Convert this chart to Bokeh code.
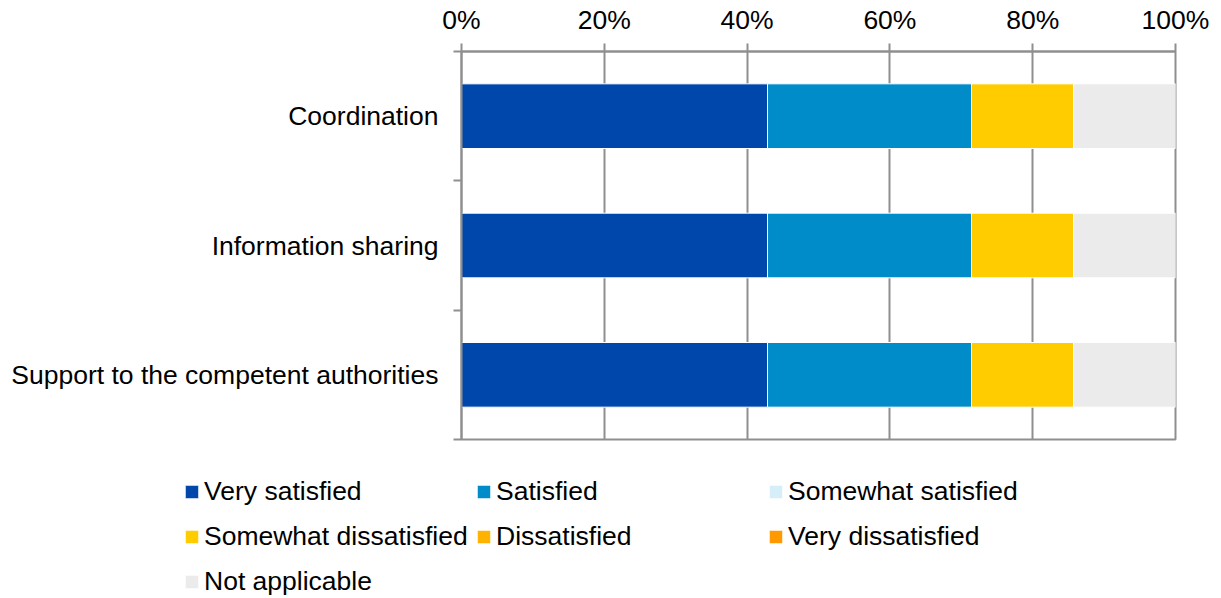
from bokeh.plotting import figure
from bokeh.layouts import column, row
from bokeh.models import (Range1d, FixedTicker, PrintfTickFormatter, Legend, LegendItem)
from bokeh.embed import file_html
from bokeh.resources import INLINE

categories = ["Coordination", "Information sharing", "Support to the competent authorities"]
series = ["Very satisfied", "Satisfied", "Somewhat satisfied",
          "Somewhat dissatisfied", "Dissatisfied", "Very dissatisfied", "Not applicable"]
very_satisfied = [42.86, 42.86, 42.86]
satisfied = [28.57, 28.57, 28.57]
somewhat_satisfied = [0.0, 0.0, 0.0]
somewhat_dissatisfied = [14.29, 14.29, 14.29]
dissatisfied = [0.0, 0.0, 0.0]
very_dissatisfied = [0.0, 0.0, 0.0]
not_applicable = [14.29, 14.29, 14.29]
colors = ["#0047AB", "#008BC9", "#D6EEF8", "#FFCC00", "#FFB300", "#FF9900", "#EBEBEB"]
x_ticks = [0, 20, 40, 60, 80, 100]

values = [very_satisfied, satisfied, somewhat_satisfied, somewhat_dissatisfied,
          dissatisfied, very_dissatisfied, not_applicable]

n = len(categories)
ypos = [n - i - 0.5 for i in range(n)]

FONT = "Liberation Sans"
FS = "26.5px"
GRID = "#8f8f8f"

data = {"y": ypos}
for s, v in zip(series, values):
    data[s] = v

p = figure(width=1221, height=460, x_range=Range1d(0, 100), y_range=Range1d(0, n),
           x_axis_location="above", output_backend="svg", toolbar_location=None,
           min_border_left=461, min_border_right=46, min_border_top=51, min_border_bottom=21)

p.hbar_stack(series, y="y", height=0.5, color=colors, line_color="white",
             line_width=1, source=data)

# x axis (top)
xa = p.xaxis[0]
xa.ticker = FixedTicker(ticks=x_ticks, minor_ticks=[])
xa.formatter = PrintfTickFormatter(format="%d%%")
xa.axis_line_color = GRID
xa.axis_line_width = 2
xa.major_tick_line_color = GRID
xa.major_tick_line_width = 2
xa.major_tick_out = 8
xa.major_tick_in = 0
xa.minor_tick_line_color = None
xa.major_label_text_font = FONT
xa.major_label_text_font_size = FS
xa.major_label_text_color = "black"
xa.major_label_standoff = 9

# y axis (left)
ya = p.yaxis[0]
ya.ticker = FixedTicker(ticks=ypos, minor_ticks=list(range(n + 1)))
ya.major_label_overrides = {y: c for y, c in zip(ypos, categories)}
ya.axis_line_color = GRID
ya.axis_line_width = 2
ya.major_tick_line_color = None
ya.major_tick_out = 0
ya.major_tick_in = 0
ya.minor_tick_line_color = GRID
ya.minor_tick_line_width = 2
ya.minor_tick_out = 8
ya.minor_tick_in = 0
ya.major_label_text_font = FONT
ya.major_label_text_font_size = FS
ya.major_label_text_color = "black"
ya.major_label_standoff = 15

p.xgrid.ticker = FixedTicker(ticks=x_ticks, minor_ticks=[])
p.xgrid.grid_line_color = GRID
p.xgrid.grid_line_width = 2
p.ygrid.grid_line_color = None
p.outline_line_color = GRID
p.outline_line_width = 2

# legend panel
lg = figure(width=1221, height=138, x_range=Range1d(0, 100), y_range=Range1d(10, 11),
            x_axis_location=None, y_axis_location=None, output_backend="svg",
            toolbar_location=None, min_border=0, outline_line_color=None)
lg.grid.grid_line_color = None
renderers = lg.hbar_stack(series, y="y", height=0.5, color=colors, line_color="white",
                          line_width=1, source=data)
items = [LegendItem(label=s, renderers=[r]) for s, r in zip(series, renderers)]
legend = Legend(items=items, location=(183, -2), orientation="horizontal", ncols=3,
                glyph_width=17, glyph_height=17, label_standoff=4, label_width=264,
                label_height=38, spacing=7, padding=0, margin=0,
                label_text_font=FONT, label_text_font_size=FS, label_text_color="black",
                background_fill_alpha=0, border_line_color=None)
lg.add_layout(legend, "center")

layout = column(p, row(lg, spacing=0), spacing=0)
open("out.html", "w").write(file_html(layout, INLINE))
